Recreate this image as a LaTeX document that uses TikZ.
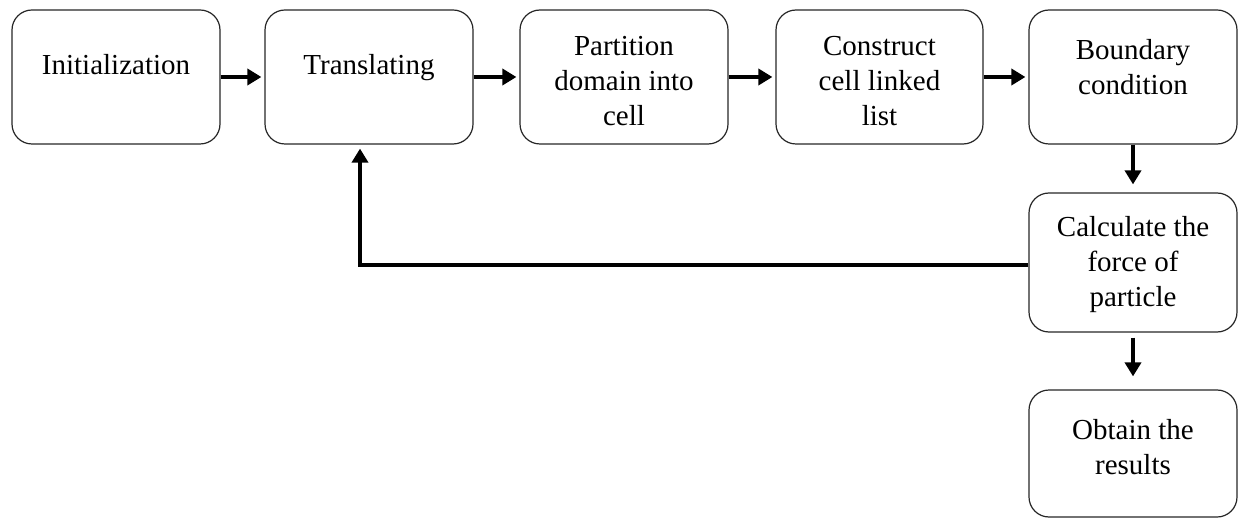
\documentclass[tikz,border=0pt]{standalone}
\usepackage{fontspec}
\setmainfont{Liberation Serif}
\usetikzlibrary{arrows.meta}
\begin{document}
\begin{tikzpicture}[x=1pt,y=-1pt,
  box/.style={draw=black!85, line width=1.2pt, rounded corners=20pt, inner sep=0pt, minimum width=208pt},
  txt/.style={align=center, inner sep=0pt, font=\fontsize{29}{35}\selectfont},
  arr/.style={line width=4.5pt, -{Triangle[length=14pt,width=16pt]}}]
\useasboundingbox (0,0) rectangle (1238,518);
% boxes
\node[box, minimum height=134pt] (init) at (116,77) {};
\node[box, minimum height=134pt] (trans) at (369,77) {};
\node[box, minimum height=134pt] (part) at (624,77) {};
\node[box, minimum height=134pt, minimum width=207pt] (cons) at (879.5,77) {};
\node[box, minimum height=134pt] (bound) at (1133,77) {};
\node[box, minimum height=139pt] (calc) at (1133,262.5) {};
\node[box, minimum height=127pt] (obt) at (1133,453.5) {};
% texts
\node[txt, anchor=base] (tinit) at (116,75) {Initialization};
\node[txt, anchor=base] (ttrans) at (369,75) {Translating};
\node[txt] (tpart) at (624,81) {Partition\\domain into\\cell};
\node[txt] (tcons) at (879.5,81) {Construct\\cell linked\\list};
\node[txt] (tbound) at (1133,67.5) {Boundary\\condition};
\node[txt] (tcalc) at (1133,265) {Calculate the\\force of\\particle};
\node[txt] (tobt) at (1133,447) {Obtain the\\results};
% connectors
\draw[arr, shorten >=3pt] (init.east) -- (trans.west);
\draw[arr, shorten >=3pt] (trans.east) -- (part.west);
\draw[arr, shorten >=3pt] (part.east) -- (cons.west);
\draw[arr, shorten >=3pt] (cons.east) -- (bound.west);
\draw[arr, shorten >=8pt] (bound.south) -- (calc.north);
\draw[arr, shorten <=5pt, shorten >=13pt] (calc.south) -- (obt.north);
\coordinate (corner) at (360,265);
\draw[arr, shorten >=4pt] (calc.west |- corner) -- (corner) -- (corner |- trans.south);
\end{tikzpicture}
\end{document}
